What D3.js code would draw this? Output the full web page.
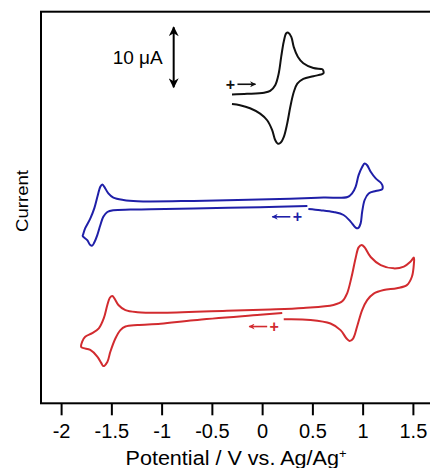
<!DOCTYPE html>
<html>
<head>
<meta charset="utf-8">
<script src="https://cdn.jsdelivr.net/npm/d3@7"></script>
<style>
  body { margin: 0; background: #fff; }
  text { font-family: "Liberation Sans", Arial, Helvetica, sans-serif; }
</style>
</head>
<body>
<div id="chart"></div>
<script>
var WD = 430, HT = 468
var margin = { left: 41, right: -3, top: 11.7, bottom: 64.7 }

// tick values of the potential axis
var xTicks = [-2, -1.5, -1, -0.5, 0, 0.5, 1, 1.5]

// [potential / V, current / uA] (traces are offset on one current axis)
var ferroceneCV = [
  [-0.30, 51.5], [-0.15, 51.6], [0.02, 51.8], [0.08, 52.1], [0.13, 53.05], [0.165, 55.0],
  [0.19, 57.8], [0.215, 60.3], [0.24, 61.7], [0.26, 61.8], [0.29, 61.1], [0.315, 59.4],
  [0.355, 57.8], [0.41, 56.7], [0.51, 55.9], [0.60, 55.7], [0.61, 55.4],
  [0.61, 55.0], [0.51, 54.55], [0.41, 54.1], [0.35, 53.3], [0.315, 51.9], [0.28, 49.4],
  [0.25, 46.7], [0.215, 44.4], [0.18, 43.4], [0.155, 43.3], [0.13, 43.9], [0.10, 45.55],
  [0.05, 47.2], [-0.02, 48.3], [-0.12, 49.2], [-0.22, 49.7], [-0.30, 49.9]
]

var blueCV = [
  [0.45, 32.9], [-0.02, 32.7], [-0.68, 32.5], [-1.11, 32.35], [-1.31, 32.3], [-1.48, 32.2],
  [-1.54, 31.9], [-1.58, 31.1], [-1.61, 29.7], [-1.64, 28.05], [-1.67, 26.8], [-1.69, 26.3],
  [-1.71, 26.4], [-1.74, 27.2], [-1.785, 27.9],
  [-1.78, 28.2], [-1.76, 29.2], [-1.71, 30.8], [-1.67, 32.5], [-1.635, 34.7], [-1.61, 36.1],
  [-1.59, 36.5], [-1.57, 36.1], [-1.53, 35.0], [-1.48, 34.3], [-1.38, 33.9], [-1.24, 33.7],
  [-0.68, 33.75], [0.28, 34.1], [0.61, 34.3], [0.85, 34.4], [0.895, 35.0], [0.93, 36.1],
  [0.96, 38.05], [0.995, 39.4], [1.02, 40.0], [1.045, 39.7], [1.08, 38.6], [1.13, 37.5],
  [1.185, 36.7], [1.20, 36.1],
  [1.195, 35.7], [1.13, 35.4], [1.06, 35.0], [1.02, 33.9], [0.995, 31.9], [0.98, 30.0],
  [0.955, 29.2], [0.93, 29.3], [0.88, 30.3], [0.81, 31.4], [0.71, 31.9], [0.58, 32.2],
  [0.46, 32.4]
]

var redCV = [
  [0.20, 15.05], [-0.02, 14.75], [-0.68, 13.85], [-1.01, 13.25], [-1.24, 13.05], [-1.36, 12.8],
  [-1.41, 12.2], [-1.46, 10.8], [-1.51, 8.6], [-1.54, 6.9], [-1.58, 6.2], [-1.60, 6.7],
  [-1.64, 7.8], [-1.71, 8.9], [-1.775, 9.2], [-1.80, 9.4],
  [-1.79, 10.3], [-1.76, 11.1], [-1.69, 11.7], [-1.625, 12.5], [-1.575, 14.2], [-1.54, 16.4],
  [-1.515, 17.6], [-1.49, 17.9], [-1.47, 17.5], [-1.43, 16.4], [-1.36, 15.55], [-1.24, 15.2],
  [-1.01, 15.1], [-0.35, 15.45], [0.08, 15.65], [0.41, 15.9], [0.71, 16.4], [0.80, 17.05],
  [0.845, 18.3], [0.89, 21.1], [0.93, 24.2], [0.96, 26.0], [0.99, 26.4], [1.02, 26.0],
  [1.08, 24.4], [1.18, 23.05], [1.31, 22.5], [1.41, 22.8], [1.475, 23.6], [1.51, 24.3],
  [1.51, 23.3], [1.49, 21.1], [1.44, 19.7], [1.34, 19.2], [1.21, 18.9], [1.11, 18.3],
  [1.045, 17.2], [0.995, 15.55], [0.945, 12.8], [0.905, 10.8], [0.87, 10.4], [0.84, 10.8],
  [0.78, 12.2], [0.68, 13.3], [0.48, 13.9], [0.215, 14.0]
]

// start-of-scan markers: [potential of "+", current, direction]
var startMarks = [
  { v: -0.315, i: 53.2, dir: 1, color: "#111" },
  { v: 0.35, i: 31.1, dir: -1, color: "#1f1fa8" },
  { v: 0.12, i: 12.8, dir: -1, color: "#d22b2f" }
]

// 10 uA scale bar
var scaleBar = { v: -0.88, from: 52.7, to: 62.7, label: "10 \u03bcA" }

var width = WD - margin.left - margin.right
var height = HT - margin.top - margin.bottom

var svg = d3.select("#chart")
  .append("svg")
    .attr("width", WD)
    .attr("height", HT)

var defs = svg.append("defs")
function head(id, color, w, h) {
  defs.append("marker")
      .attr("id", id)
      .attr("viewBox", "0 0 10 10")
      .attr("refX", 9).attr("refY", 5)
      .attr("markerUnits", "userSpaceOnUse")
      .attr("markerWidth", w).attr("markerHeight", h)
      .attr("orient", "auto-start-reverse")
    .append("path")
      .attr("d", "M0,0 L10,5 L0,10 L3,5 Z")
      .attr("fill", color)
}
head("barHead", "#000", 11, 10)
startMarks.forEach(function(m, k) { head("mk" + k, m.color, 7, 6) })

var g = svg.append("g")
    .attr("transform", "translate(" + margin.left + "," + margin.top + ")")

var x = d3.scaleLinear().domain([-2.2, 1.7]).range([0, width])
var y = d3.scaleLinear().domain([0, 65.3]).range([height, 0])

// frame
g.append("rect")
    .attr("x", 0).attr("y", 0)
    .attr("width", width).attr("height", height)
    .attr("fill", "none")
    .attr("stroke", "#000")
    .attr("stroke-width", 2)

var xAxis = g.append("g")
    .attr("transform", "translate(0," + height + ")")
    .call(d3.axisBottom(x).tickValues(xTicks).tickSize(12).tickPadding(9)
      .tickFormat(function(d) { return d3.format("")(d).replace("\u2212", "-") }))
xAxis.select(".domain").remove()
xAxis.selectAll(".tick line").attr("stroke", "#000").attr("stroke-width", 2)
xAxis.selectAll(".tick text")
    .attr("fill", "#000")
    .style("font-size", "20px")
    .style("font-family", "'Liberation Sans', Arial, sans-serif")

// axis titles
var title = svg.append("text")
    .attr("x", margin.left + x(-2.2) + (x(1.7) - x(-2.2)) / 2 - 1)
    .attr("y", 465)
    .attr("text-anchor", "middle")
    .style("font-size", "20px")
    .attr("textLength", 221)
    .attr("lengthAdjust", "spacingAndGlyphs")
title.append("tspan").text("Potential / V vs. Ag/Ag")
title.append("tspan").text("+").attr("dy", -7).style("font-size", "12px")

svg.append("text")
    .attr("transform", "translate(28,201) rotate(-90)")
    .attr("text-anchor", "middle")
    .style("font-size", "17px")
    .attr("textLength", 62)
    .attr("lengthAdjust", "spacingAndGlyphs")
    .text("Current")

// traces
var line = d3.line()
    .x(function(d) { return x(d[0]) })
    .y(function(d) { return y(d[1]) })
    .curve(d3.curveCatmullRom.alpha(0.5))

var series = [
  { data: ferroceneCV, color: "#111" },
  { data: blueCV, color: "#1f1fa8" },
  { data: redCV, color: "#d22b2f" }
]
g.selectAll("path.cv")
  .data(series)
  .enter().append("path")
    .attr("class", "cv")
    .attr("d", function(d) { return line(d.data) })
    .attr("fill", "none")
    .attr("stroke", function(d) { return d.color })
    .attr("stroke-width", 2)
    .attr("stroke-linejoin", "round")

// start markers "+" with scan direction arrow
startMarks.forEach(function(m, k) {
  g.append("text")
      .attr("x", x(m.v)).attr("y", y(m.i) + 5.5)
      .attr("text-anchor", "middle")
      .attr("fill", m.color)
      .style("font-size", "16px")
      .style("font-weight", "bold")
      .text("+")
  var a0 = x(m.v) + m.dir * 7, a1 = x(m.v) + m.dir * 25
  g.append("line")
      .attr("x1", a0).attr("y1", y(m.i))
      .attr("x2", a1).attr("y2", y(m.i))
      .attr("stroke", m.color)
      .attr("stroke-width", 1.6)
      .attr("marker-end", "url(#mk" + k + ")")
})

// scale bar
g.append("line")
    .attr("x1", x(scaleBar.v)).attr("y1", y(scaleBar.from))
    .attr("x2", x(scaleBar.v)).attr("y2", y(scaleBar.to))
    .attr("stroke", "#000")
    .attr("stroke-width", 2)
    .attr("marker-start", "url(#barHead)")
    .attr("marker-end", "url(#barHead)")
g.append("text")
    .attr("x", x(scaleBar.v) - 11)
    .attr("y", y((scaleBar.from + scaleBar.to) / 2) + 7)
    .attr("text-anchor", "end")
    .style("font-size", "19px")
    .text(scaleBar.label)
</script>
</body>
</html>
